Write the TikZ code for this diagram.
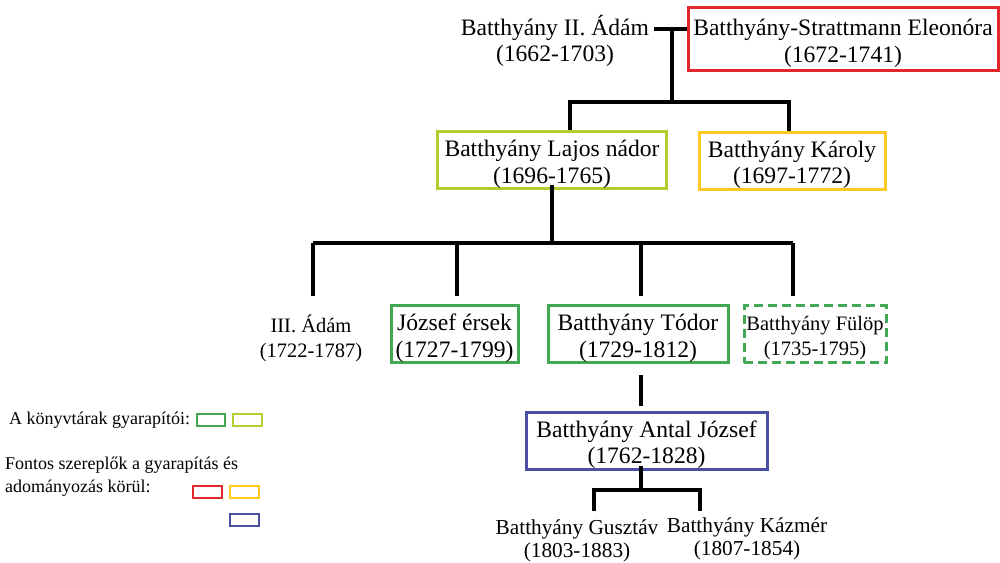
\documentclass[tikz,border=0pt]{standalone}
\usepackage{fontspec}
\setmainfont{Liberation Serif}
\usetikzlibrary{calc}
\definecolor{cred}{HTML}{E3262B}
\definecolor{cyg}{HTML}{B5CC2C}
\definecolor{cyel}{HTML}{FFC825}
\definecolor{cgreen}{HTML}{43A853}
\definecolor{cblue}{HTML}{4B50A2}
\newcommand\bxstrut{\rule{0pt}{25pt}}
\newcommand\bxstrutsm{\rule{0pt}{22.5pt}}
\begin{document}
\begin{tikzpicture}[x=1pt,y=-1pt,
  txt/.style={align=center, inner sep=0pt, font=\fontsize{23.6}{26.5}\selectfont},
  smalltxt/.style={align=center, inner sep=0pt, font=\fontsize{20.5}{25}\selectfont},
  midtxt/.style={align=center, inner sep=0pt, font=\fontsize{21.3}{23}\selectfont},
  legtxt/.style={align=left, inner sep=0pt, font=\fontsize{18}{23}\selectfont},
  famline/.style={line width=3.1pt, black},
  fbox/.style={draw, line width=3pt},
  legbox/.style={draw, line width=2.8pt}
]
\useasboundingbox[fill=white] (0,0) rectangle (1000,562);

% top generation
\node[txt] (adam) at (555,41) {Batthyány II. Ádám\\(1662-1703)};
\node[txt, fbox, draw=cred, minimum width=310pt, minimum height=63pt] (eleo) at (843,39) {\bxstrut Batthyány-Strattmann Eleonóra\\(1672-1741)};

% second generation
\node[txt, fbox, draw=cyg, minimum width=229pt, minimum height=57pt] (lajos) at (552,160) {\bxstrut Batthyány Lajos nádor\\(1696-1765)};
\node[txt, fbox, draw=cyel, minimum width=186pt, minimum height=57pt] (karoly) at (792,160.5) {\bxstrut Batthyány Károly\\(1697-1772)};

% third generation
\node[smalltxt] (adam3) at (311,338) {III. Ádám\\(1722-1787)};
\node[txt, fbox, draw=cgreen, minimum width=127pt, minimum height=57pt] (jozsef) at (454.5,334) {\bxstrut József érsek\\(1727-1799)};
\node[txt, fbox, draw=cgreen, minimum width=180pt, minimum height=57pt] (todor) at (638,334) {\bxstrut Batthyány Tódor\\(1729-1812)};
\node[smalltxt, fbox, dashed, dash pattern=on 9pt off 5pt, draw=cgreen, minimum width=142pt, minimum height=57pt] (fulop) at (815,334) {\bxstrutsm Batthyány Fülöp\\(1735-1795)};

% fourth generation
\node[txt, fbox, draw=cblue, minimum width=241pt, minimum height=57pt] (antal) at (646.5,440.5) {\bxstrut Batthyány Antal József\\(1762-1828)};

% fifth generation
\node[midtxt] (gusztav) at (577,541) {Batthyány Gusztáv\\(1803-1883)};
\node[midtxt] (kazmer) at (747,539) {Batthyány Kázmér\\(1807-1854)};

% connectors
\coordinate (m) at (672,29);
\coordinate (j1) at (672,102);
\coordinate (xl) at (570,0);
\coordinate (xk) at (789,0);
\draw[famline] ($(adam.east |- m)+(5,0)$) -- (eleo.west |- m);
\draw[famline] (m) -- (j1);
\draw[famline] (lajos.north -| xl) |- (j1) -| (karoly.north -| xk);

\coordinate (d0) at (552,243);
\coordinate (d1) at (313,296);
\coordinate (d2) at (457,296);
\coordinate (d3) at (641,296);
\coordinate (d4) at (793,296);
\draw[famline] ($(lajos.south -| d0)+(0,-5)$) -- (d0);
\draw[famline] (d1 |- d0) -- (d4 |- d0);
\draw[famline] (d1 |- d0) -- (d1);
\draw[famline] (d2 |- d0) -- (d2);
\draw[famline] (d3 |- d0) -- (d3);
\draw[famline] (d4 |- d0) -- (d4);

\coordinate (x5) at (641,0);
\draw[famline, shorten <=11pt, shorten >=5pt] (todor.south -| x5) -- (antal.north -| x5);
\coordinate (j3) at (641,490);
\coordinate (g) at (594,511);
\coordinate (k) at (700,511);
\draw[famline] ($(antal.south -| j3)+(0,-5)$) -- (j3);
\draw[famline] (g) |- (j3) -| (k);

% legend
\node[legtxt, anchor=west] (leg1) at (9,420) {A könyvtárak gyarapítói:};
\node[legtxt, anchor=west] (leg2) at (5,477) {Fontos szereplők a gyarapítás és\\adományozás körül:};
\node[legbox, draw=cgreen, minimum width=28pt, minimum height=12pt, inner sep=0pt] (lg1) at (211,420) {};
\node[legbox, draw=cyg, minimum width=29pt, minimum height=12pt, inner sep=0pt] (lg2) at (247.5,420) {};
\node[legbox, draw=cred, minimum width=29pt, minimum height=12pt, inner sep=0pt] (lg3) at (207.5,492) {};
\node[legbox, draw=cyel, minimum width=29pt, minimum height=12pt, inner sep=0pt] (lg4) at (244.5,492) {};
\node[legbox, draw=cblue, minimum width=29pt, minimum height=12pt, inner sep=0pt] (lg5) at (244.5,520) {};
\end{tikzpicture}
\end{document}
